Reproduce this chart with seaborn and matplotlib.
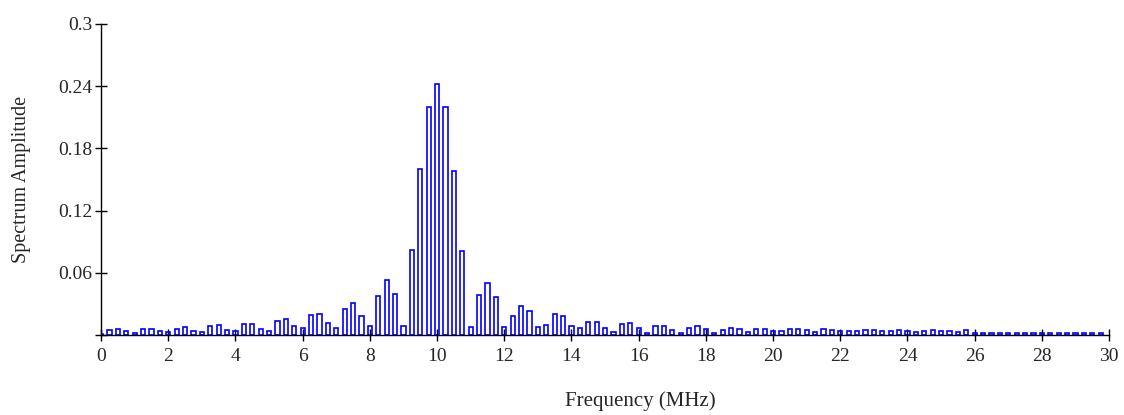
import numpy as np
import pandas as pd
import matplotlib
matplotlib.use("Agg")
import matplotlib.pyplot as plt
import seaborn as sns

# frequency bins every 0.25 MHz, 0 .. 29.75
freq = [i * 0.25 for i in range(120)]
amp = [
    0.001, 0.005, 0.006, 0.004, 0.002, 0.006, 0.006, 0.004,      # 0 - 1.75
    0.003, 0.006, 0.008, 0.004, 0.003, 0.009, 0.010, 0.005,      # 2 - 3.75
    0.004, 0.011, 0.011, 0.006, 0.004, 0.0135, 0.0155, 0.0085,   # 4 - 5.75
    0.0065, 0.019, 0.0205, 0.012, 0.0068, 0.0254, 0.0305, 0.0187,  # 6 - 7.75
    0.0087, 0.0376, 0.0527, 0.0396, 0.0087, 0.0817, 0.160, 0.2196,  # 8 - 9.75
    0.2418, 0.2196, 0.1585, 0.081, 0.008, 0.039, 0.0505, 0.037,    # 10 - 11.75
    0.0077, 0.018, 0.0283, 0.0235, 0.008, 0.0096, 0.020, 0.018,    # 12 - 13.75
    0.0085, 0.0065, 0.013, 0.013, 0.0065, 0.0032, 0.0105, 0.0118,  # 14 - 15.75
    0.0065, 0.002, 0.0085, 0.0085, 0.0045, 0.002, 0.007, 0.0085,   # 16 - 17.75
    0.0053, 0.0018, 0.005, 0.007, 0.006, 0.003, 0.0055, 0.0055,    # 18 - 19.75
    0.004, 0.004, 0.0055, 0.006, 0.0045, 0.003, 0.0055, 0.005,     # 20 - 21.75
    0.004, 0.004, 0.004, 0.005, 0.0045, 0.0035, 0.004, 0.0045,     # 22 - 23.75
    0.0035, 0.003, 0.004, 0.0045, 0.004, 0.004, 0.003, 0.0045,     # 24 - 25.75
    0.002, 0.002, 0.0018, 0.002, 0.0018, 0.002, 0.002, 0.0018,     # 26 - 27.75
    0.002, 0.0018, 0.002, 0.002, 0.0018, 0.002, 0.0018, 0.002,     # 28 - 29.75
]
xticks = list(range(0, 31, 2))
yticks = [0, 0.06, 0.12, 0.18, 0.24, 0.3]
ytick_labels = ["", "0.06", "0.12", "0.18", "0.24", "0.3"]

df = pd.DataFrame({"freq": freq, "amp": amp})

sns.set_style("ticks")
plt.rcParams["font.family"] = ["Liberation Serif", "DejaVu Serif"]

fig = plt.figure(figsize=(11.24, 4.15), dpi=100)
ax = fig.add_axes([0.0899, 0.1928, 0.8968, 0.7494])

sns.barplot(data=df, x="freq", y="amp", native_scale=True, width=0.5,
            fill=False, color="blue", linewidth=1.2, errorbar=None, ax=ax)

ax.set_xlim(0, 30)
ax.set_ylim(0, 0.3)
ax.set_xticks(xticks)
ax.set_xticklabels([str(t) for t in xticks], fontsize=14)
ax.set_yticks(yticks)
ax.set_yticklabels(ytick_labels, fontsize=14)
ax.tick_params(direction="inout", length=9, width=1, color="black")
ax.tick_params(axis="x", pad=5)
ax.tick_params(axis="y", pad=2)
for s in ["top", "right"]:
    ax.spines[s].set_visible(False)
for s in ["left", "bottom"]:
    ax.spines[s].set_color("black")
    ax.spines[s].set_linewidth(1)

ax.set_xlabel("Frequency (MHz)", fontsize=15)
ax.xaxis.set_label_coords(0.535, -0.18)
ax.set_ylabel("Spectrum Amplitude", fontsize=14.5, labelpad=19)

fig.savefig("out.png", dpi=100)
